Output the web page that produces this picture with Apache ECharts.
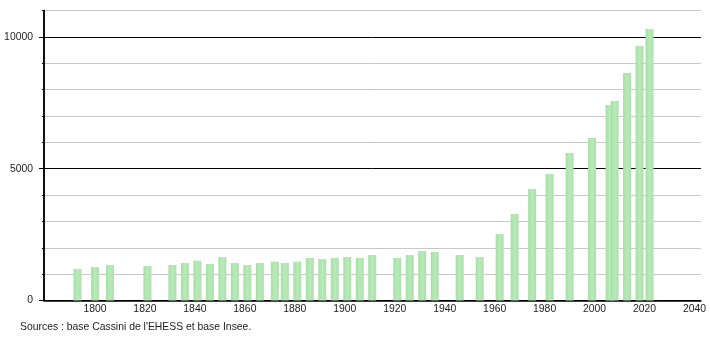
<!DOCTYPE html>
<html>
<head>
<meta charset="utf-8">
<script src="https://cdn.jsdelivr.net/npm/echarts@6/dist/echarts.min.js"></script>
<style>html,body{margin:0;padding:0;background:#fff;}#c{width:710px;height:340px;}</style>
</head>
<body>
<div id="c"></div>
<script>
const years = [1793,1800,1806,1821,1831,1836,1841,1846,1851,1856,1861,1866,1872,1876,1881,1886,1891,1896,1901,1906,1911,1921,1926,1931,1936,1946,1954,1962,1968,1975,1982,1990,1999,2006,2008,2013,2018,2022];
const population = [1195,1271,1347,1309,1347,1423,1510,1385,1651,1423,1347,1423,1472,1423,1472,1613,1575,1613,1651,1613,1727,1613,1727,1879,1841,1727,1651,2524,3283,4231,4801,5598,6178,7419,7571,8634,9658,10304];
const xTicks = [1800,1820,1840,1860,1880,1900,1920,1940,1960,1980,2000,2020,2040];
const yLabels = [0,5000,10000];
const sourceText = "Sources : base Cassini de l'EHESS et base Insee.";

const font = 'Liberation Sans, Arial, sans-serif';
const fs = 10.4;
const plain = v => String(v);
const chart = echarts.init(document.getElementById('c'), null, {renderer:'canvas'});
chart.setOption({
  animation: false,
  backgroundColor: '#fff',
  grid: {left: 44, right: 9, top: 10.6, bottom: 39.5, containLabel: false},
  xAxis: {
    type: 'value', min: 1779.6, max: 2042.6,
    axisLine: {show: true, lineStyle: {color: '#000', width: 1.5}},
    axisTick: {show: false},
    splitLine: {show: false},
    axisLabel: {customValues: xTicks, color: '#222', fontFamily: font, fontSize: fs, margin: 4, formatter: plain}
  },
  yAxis: [{
    type: 'value', min: 0, max: 11000, interval: 1000,
    axisLine: {show: true, lineStyle: {color: '#000', width: 1.5}},
    axisTick: {show: true, length: 2, lineStyle: {color: '#000'}},
    splitLine: {show: true, showMinLine: true, lineStyle: {color: ['#000','#c8c8c8','#c8c8c8','#c8c8c8','#c8c8c8'], width: 1}},
    axisLabel: {show: false}
  }, {
    type: 'value', min: 0, max: 11000, position: 'left',
    axisLine: {show: true, lineStyle: {color: '#000', width: 1.5}},
    axisTick: {show: true, length: 5, customValues: yLabels, lineStyle: {color: '#000', width: 1}},
    splitLine: {show: false},
    axisLabel: {show: true, customValues: yLabels, color: '#222', fontFamily: font, fontSize: fs, margin: 11, formatter: plain}
  }],
  series: [{
    type: 'bar',
    barWidth: 8,
    data: years.map((y, i) => [y, population[i]]),
    itemStyle: {
      color: new echarts.graphic.LinearGradient(0, 0, 1, 0, [
        {offset: 0, color: '#a9dca9'},
        {offset: 0.5, color: '#b7ebb7'},
        {offset: 1, color: '#addfad'}
      ])
    }
  }],
  graphic: [{
    type: 'text', left: 20, top: 322,
    style: {text: sourceText, fill: '#222', font: fs + 'px ' + font}
  }]
});
</script>
</body>
</html>
